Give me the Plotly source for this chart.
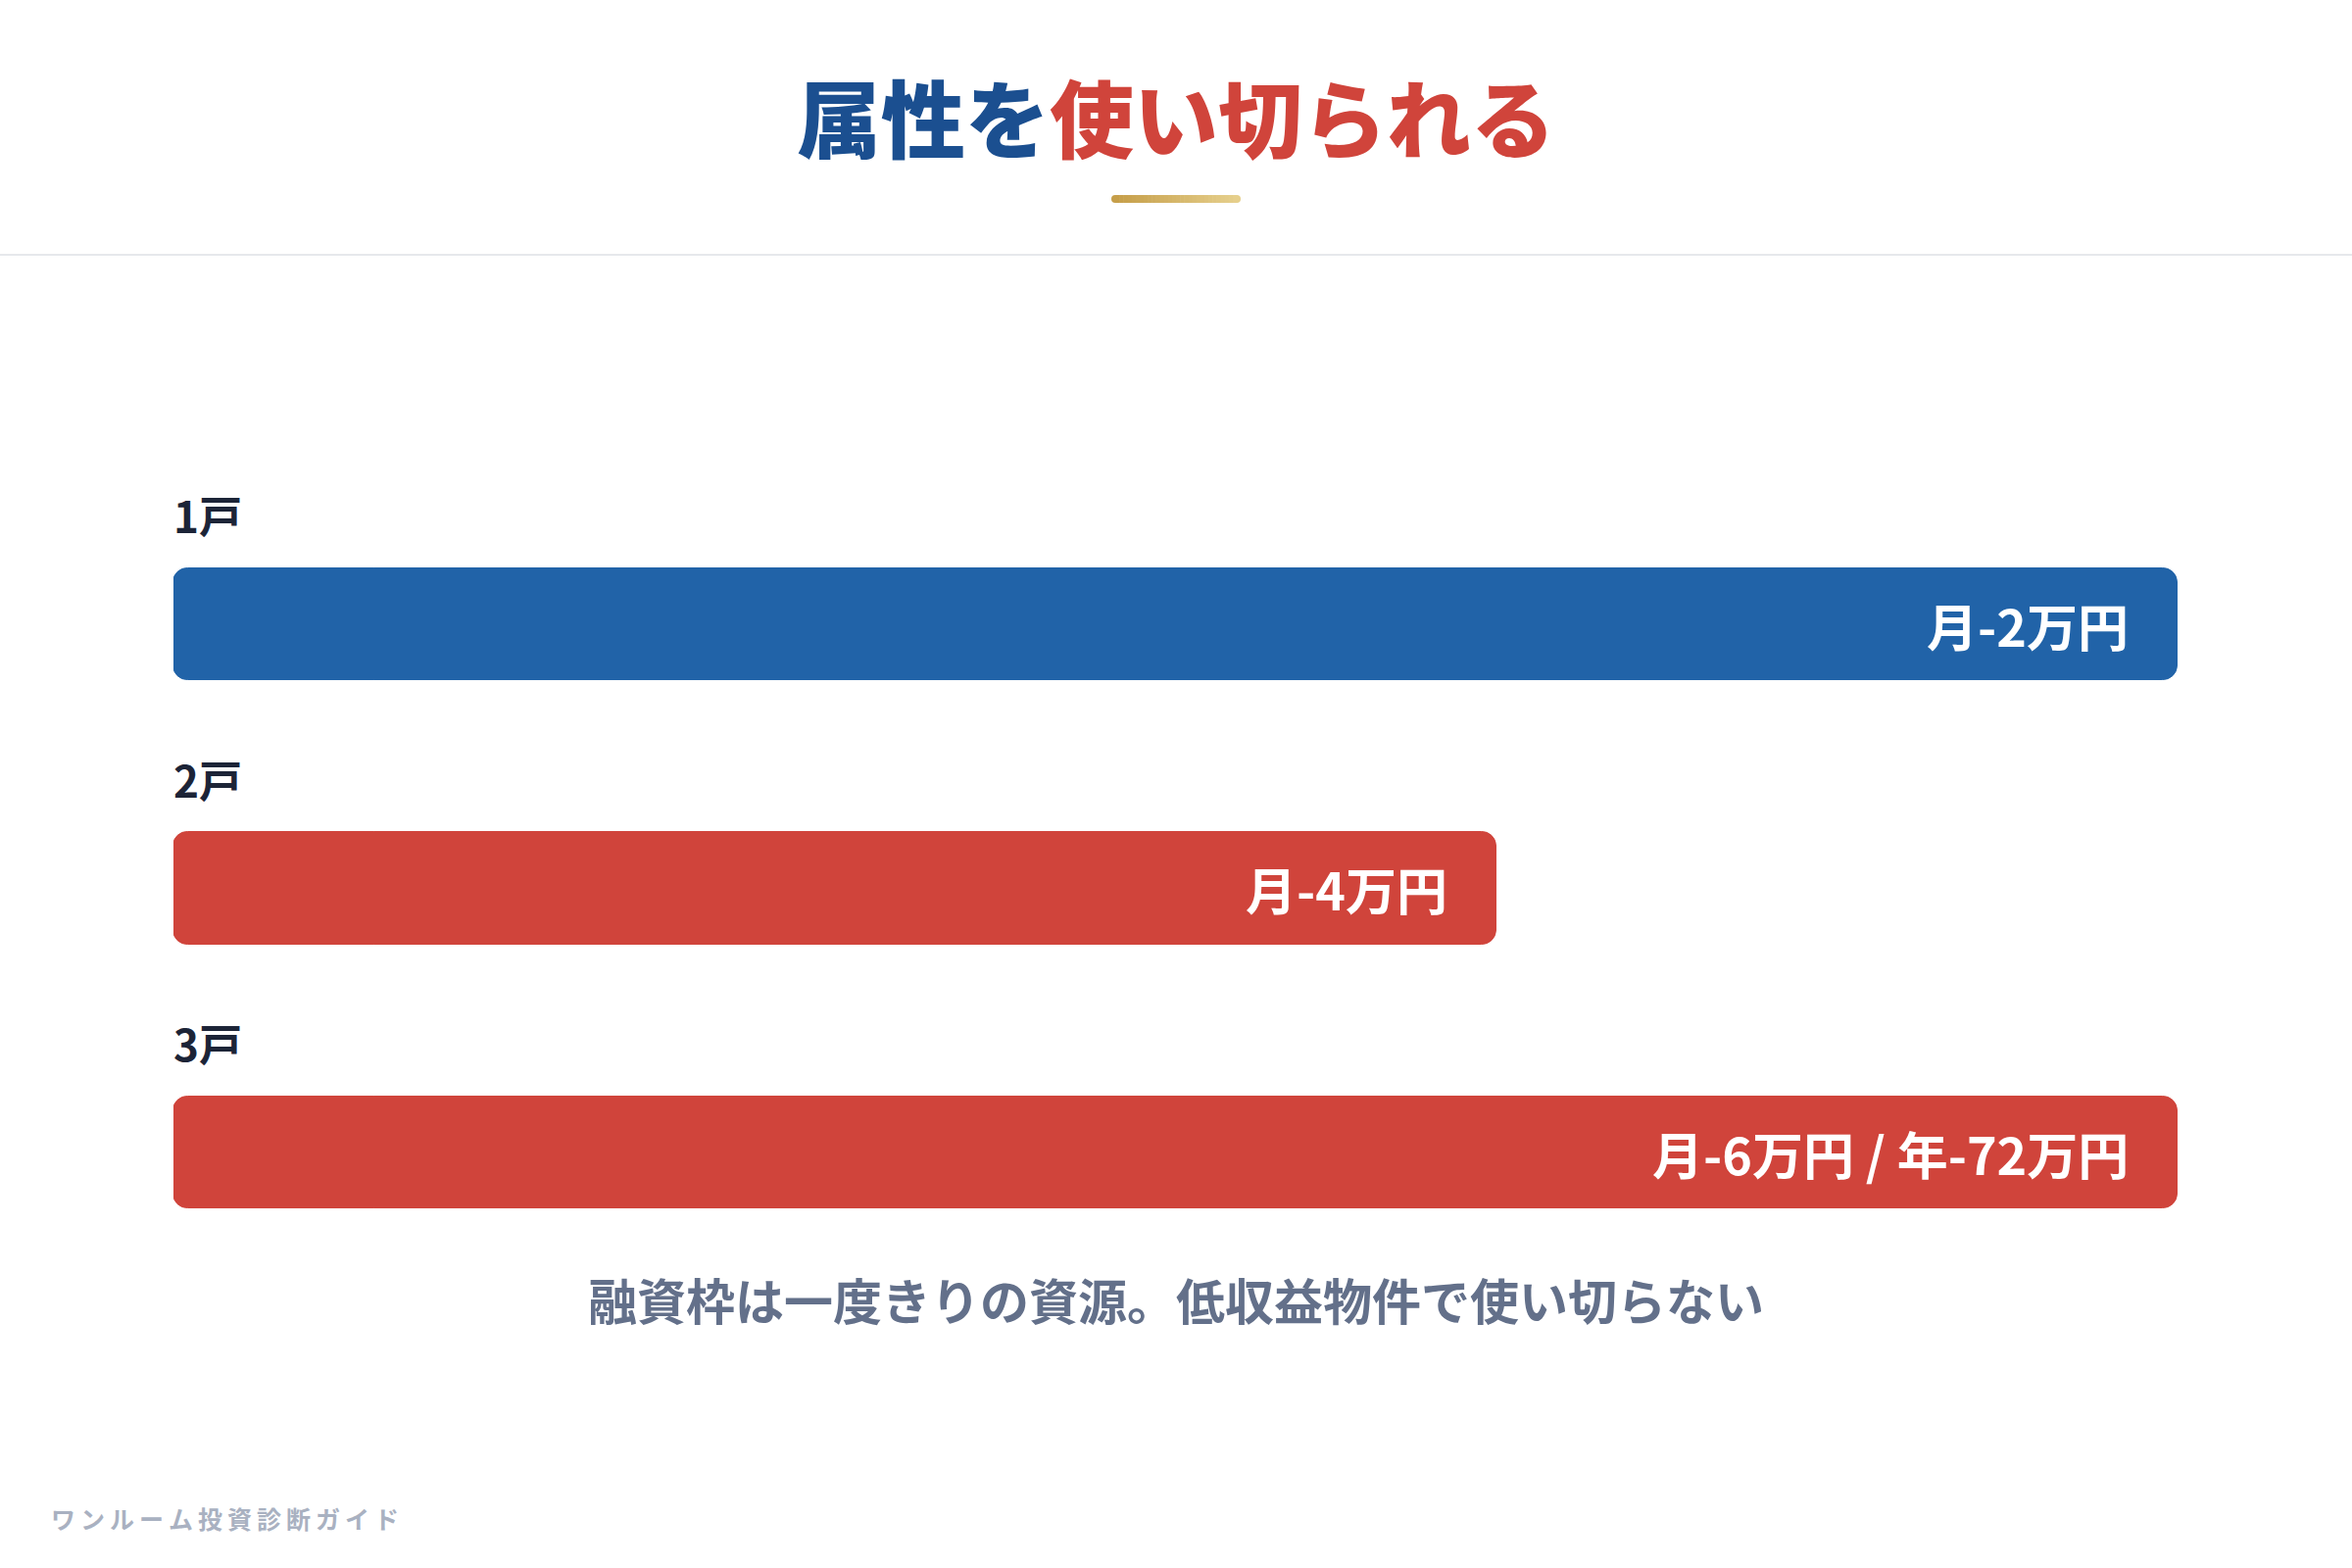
import plotly.graph_objects as go

# ---- data ----
categories = ["1戸", "2戸", "3戸"]
bar_widths = [100, 66, 100]          # relative bar length (%)
bar_labels = ["月-2万円", "月-4万円", "月-6万円 / 年-72万円"]
bar_colors = ["#2163a8", "#d0443b", "#d0443b"]
title_blue = "属性を"
title_red = "使い切られる"
caption = "融資枠は一度きりの資源。低収益物件で使い切らない"
footer = "ワンルーム投資診断ガイド"

W, H = 2400, 1600
FONT = "Noto Sans CJK JP"
ypos = list(range(len(categories)))
BAR_W = 0.425
RAD = 15
S = 10   # axis zero is placed at this offset so both bar ends can be rounded

fig = go.Figure()
# right part (rounded at right end)
fig.add_trace(go.Bar(
    x=[v - S for v in bar_widths], y=ypos, orientation="h",
    width=BAR_W,
    marker=dict(color=bar_colors, cornerradius=RAD, line=dict(width=1, color=bar_colors)),
    hoverinfo="skip", showlegend=False,
))
# left part (rounded at left end)
fig.add_trace(go.Bar(
    x=[-S for _ in bar_widths], y=ypos, orientation="h",
    width=BAR_W,
    marker=dict(color=bar_colors, cornerradius=RAD, line=dict(width=1, color=bar_colors)),
    hoverinfo="skip", showlegend=False,
))

annotations = []
# category labels above bars
for i, c in enumerate(categories):
    annotations.append(dict(
        x=-S, y=ypos[i], xref="x", yref="y", text=c, showarrow=False,
        xanchor="left", yanchor="middle", yshift=112, xshift=-2,
        font=dict(family=FONT, size=44, color="#1c2437", weight="bold"),
    ))
# value labels inside bars
for i, t in enumerate(bar_labels):
    annotations.append(dict(
        x=bar_widths[i] - S, y=ypos[i], xref="x", yref="y", text=t, showarrow=False,
        xanchor="right", yanchor="middle", xshift=-48,
        font=dict(family=FONT, size=52, color="#ffffff", weight="bold"),
    ))
# title
annotations.append(dict(
    x=0.5, y=1 - 117 / H, xref="paper", yref="paper", showarrow=False,
    xanchor="center", yanchor="middle",
    text=f'<span style="color:#1b4f90">{title_blue}</span><span style="color:#d0443b">{title_red}</span>',
    font=dict(family=FONT, size=86, weight=900),
))
# caption
annotations.append(dict(
    x=0.5, y=1 - 1325 / H, xref="paper", yref="paper", showarrow=False,
    xanchor="center", yanchor="middle", text=caption,
    font=dict(family=FONT, size=50, color="#63708a", weight="bold"),
))
# footer
annotations.append(dict(
    x=50 / W, y=1 - 1549 / H, xref="paper", yref="paper", showarrow=False,
    xanchor="left", yanchor="middle", text="\u2009".join(footer),
    font=dict(family=FONT, size=25, color="#a9b1c1", weight="bold"),
))

shapes = []
# divider line
shapes.append(dict(type="line", xref="paper", yref="paper", x0=0, x1=1,
                   y0=1 - 260 / H, y1=1 - 260 / H,
                   line=dict(color="#e6e8ec", width=2)))
# gold gradient underline
x_start, x_end = 1134, 1266
y_top, y_bot = 199, 207
c0 = (0xc6, 0x9f, 0x4a)
c1 = (0xe6, 0xcf, 0x8c)
nseg = 30
for k in range(nseg):
    f = k / (nseg - 1)
    col = "rgb(%d,%d,%d)" % tuple(int(c0[j] + (c1[j] - c0[j]) * f) for j in range(3))
    xa = x_start + 4 + (x_end - x_start - 8) * k / nseg
    xb = x_start + 4 + (x_end - x_start - 8) * (k + 1) / nseg + 0.6
    shapes.append(dict(type="rect", xref="paper", yref="paper",
                       x0=xa / W, x1=xb / W, y0=1 - y_bot / H, y1=1 - y_top / H,
                       fillcolor=col, line=dict(width=0)))
for cx, col in ((x_start + 4, "rgb(198,159,74)"), (x_end - 4, "rgb(230,207,140)")):
    shapes.append(dict(type="circle", xref="paper", yref="paper",
                       x0=(cx - 4) / W, x1=(cx + 4) / W, y0=1 - y_bot / H, y1=1 - y_top / H,
                       fillcolor=col, line=dict(width=0)))

# y axis mapping: value 0 at px 637, value 2 at px 1176
dom_top, dom_bot = 500, 1300
ppu = (1176 - 637) / 2
r_top = 0 - (637 - dom_top) / ppu
r_bot = 2 + (dom_bot - 1176) / ppu

fig.update_layout(
    width=W, height=H,
    margin=dict(l=0, r=0, t=0, b=0),
    paper_bgcolor="#ffffff", plot_bgcolor="#ffffff",
    xaxis=dict(domain=[177 / W, 2222 / W], range=[-S, 100 - S], visible=False, fixedrange=True),
    yaxis=dict(domain=[1 - dom_bot / H, 1 - dom_top / H], range=[r_bot, r_top],
               visible=False, fixedrange=True),
    annotations=annotations,
    shapes=shapes,
    barmode="overlay",
    bargap=0,
)

fig.write_html("out.html", config={"displayModeBar": False},
               post_script="document.body.style.margin='0';document.body.style.overflow='hidden';")
